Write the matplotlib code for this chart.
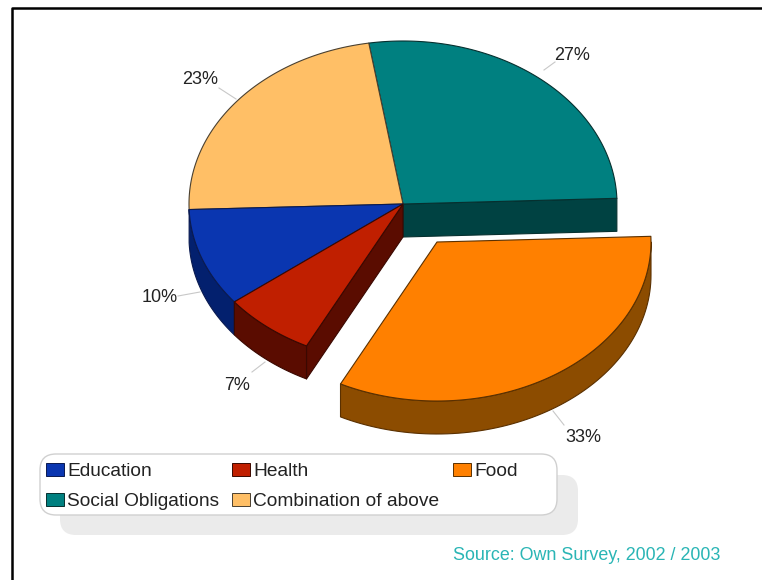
import numpy as np
import matplotlib
matplotlib.use("Agg")
import matplotlib.pyplot as plt
from matplotlib.patches import Polygon, FancyBboxPatch, Rectangle

plt.rcParams['font.family'] = ['Liberation Sans', 'DejaVu Sans']

# Survey shares, counter-clockwise from the right edge of the pie
categories = ["Social Obligations", "Combination of above", "Education", "Health", "Food"]
shares = [27, 23, 10, 7, 33]
top_colors = ["#008080", "#ffbf66", "#0a36b0", "#c01f00", "#ff8000"]
side_colors = ["#004242", "#8a5a20", "#03206e", "#5a0c00", "#8c4c00"]
edge_colors = ["#06302f", "#4a4030", "#0a1a50", "#3a0800", "#5a3000"]

legend_rows = [["Education", "Health", "Food"],
               ["Social Obligations", "Combination of above"]]

# Projected pie geometry, in figure pixels; the near half is slightly flatter
CX, CY = 403, 204
RX = 214
RY_FAR, RY_NEAR = 163, 159
DEPTH = 33
START = 2.0
EXPLODE = {"Food": (34, 38)}


def rim(t_deg, ox=0, oy=0, dz=0):
    t = np.radians(np.atleast_1d(t_deg))
    s = np.sin(t)
    ry = np.where(s >= 0, RY_FAR, RY_NEAR)
    return np.column_stack([CX + ox + RX * np.cos(t), CY + oy - ry * s + dz])


fig = plt.figure(figsize=(7.62, 5.8), dpi=100)
ax = fig.add_axes([0, 0, 1, 1])
ax.set_xlim(0, 762)
ax.set_ylim(580, 0)
ax.axis("off")

# Frame: left and top rules only, running off the page
ax.plot([12, 12, 762], [580, 8, 8], color="black", lw=1.8, solid_capstyle="butt")

# Slice angle spans derived from the shares
edges = START + np.concatenate([[0], np.cumsum(shares)]) * 360 / sum(shares)
spans = {c: (a, b) for c, a, b in zip(categories, edges[:-1], edges[1:])}

for i, (cat, (a, b)) in enumerate(spans.items()):
    ox, oy = EXPLODE.get(cat, (0, 0))
    side, top, edge = side_colors[i], top_colors[i], edge_colors[i]
    kw = dict(closed=True, lw=0.8, joinstyle="round")

    # Radial cut walls opened up by the pulled-out slice
    if cat in ("Social Obligations", "Health"):
        t = a if cat == "Social Obligations" else b
        p = rim(t)[0]
        face = [(CX, CY), tuple(p), (p[0], p[1] + DEPTH), (CX, CY + DEPTH)]
        ax.add_patch(Polygon(face, fc=side, ec=edge, zorder=2, **kw))

    # Outer wall on the lower half of the rim, skipping slivers
    lo, hi = max(a, 180), min(b, 360)
    if hi - lo > 3:
        t = np.linspace(lo, hi, 80)
        wall = np.vstack([rim(t, ox, oy), rim(t[::-1], ox, oy, DEPTH)])
        ax.add_patch(Polygon(wall, fc=side, ec=edge, zorder=3, **kw))

    # Top face
    t = np.linspace(a, b, 120)
    face = np.vstack([[CX + ox, CY + oy], rim(t, ox, oy)])
    ax.add_patch(Polygon(face, fc=top, ec=edge, zorder=4, **kw))

# Percentage labels with leader lines
label_xy = [(572, 54), (200, 78), (160, 296), (237, 385), (583, 437)]
leader_xy = [((555, 62), (544, 70)), ((219, 88), (236, 99)), ((178, 296), (200, 292)),
             ((252, 372), (265, 362)), ((564, 425), (553, 411))]
for share, (x, y), (p, q) in zip(shares, label_xy, leader_xy):
    ax.plot([p[0], q[0]], [p[1], q[1]], color="#c8c8c8", lw=0.8, zorder=1)
    ax.text(x, y + 1, f"{share}%", ha="center", va="center", fontsize=13, color="#222222")

# Legend panel and its soft shadow
ax.add_patch(FancyBboxPatch((60, 475), 518, 60, boxstyle="round,pad=0,rounding_size=16",
                            fc="#ebebeb", ec="none", zorder=1))
ax.add_patch(FancyBboxPatch((40, 454), 517, 61, boxstyle="round,pad=0,rounding_size=16",
                            fc="white", ec="#d0d0d0", lw=1, zorder=5))

col_x = [46, 232, 453]
row_y = [470, 500]
color_of = dict(zip(categories, zip(top_colors, edge_colors)))
for row, y in zip(legend_rows, row_y):
    for name, x in zip(row, col_x):
        fc, ec = color_of[name]
        ax.add_patch(Rectangle((x, y - 7), 18, 13, fc=fc, ec=ec, lw=0.7, zorder=6))
        ax.text(x + 21, y + 1, name, ha="left", va="center", fontsize=13.8, color="#222222", zorder=6)

ax.text(453, 556, "Source: Own Survey, 2002 / 2003", ha="left", va="center",
        fontsize=12.9, color="#2ab5b5")

fig.savefig("out.png", dpi=100)
